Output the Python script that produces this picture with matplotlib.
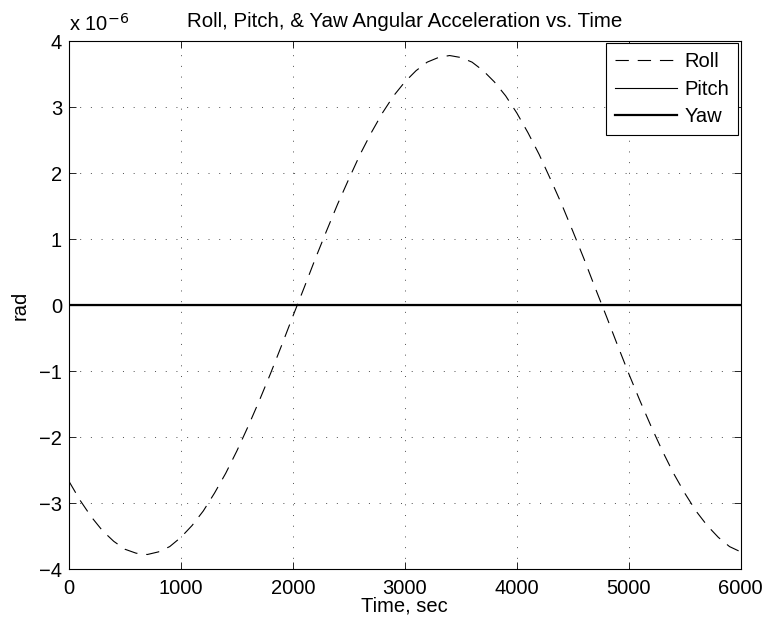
import numpy as np
import matplotlib
matplotlib.use('Agg')
import matplotlib.pyplot as plt
from matplotlib.ticker import FuncFormatter

plt.rcParams['font.family'] = ['Liberation Sans', 'DejaVu Sans']

# values (roll in units of 1e-6 rad), every 100 s
time_s = list(range(0, 6001, 100))
roll_e6 = [-2.67, -2.96, -3.21, -3.42, -3.58, -3.70, -3.76, -3.78, -3.74, -3.66,
           -3.52, -3.34, -3.12, -2.85, -2.55, -2.21, -1.84, -1.45, -1.04, -0.61,
           -0.17, 0.26, 0.70, 1.12, 1.53, 1.91, 2.28, 2.61, 2.91, 3.17,
           3.38, 3.55, 3.68, 3.75, 3.78, 3.75, 3.68, 3.55, 3.38, 3.17,
           2.91, 2.61, 2.28, 1.91, 1.53, 1.12, 0.70, 0.26, -0.17, -0.61,
           -1.04, -1.45, -1.84, -2.21, -2.55, -2.85, -3.12, -3.34, -3.52, -3.66,
           -3.74]
pitch_e6 = [0.0] * len(time_s)
yaw_e6 = [0.0] * len(time_s)

scale = 1e-6
t = np.array(time_s)
fs = 14.5

fig = plt.figure(figsize=(7.66, 6.26), dpi=100)
ax = fig.add_axes([0.090, 0.091, 0.877, 0.8435])

ax.plot(t, np.array(roll_e6) * scale, 'k', ls=(0, (12, 8)), lw=0.8, label='Roll')
ax.plot(t, np.array(pitch_e6) * scale, 'k-', lw=0.8, label='Pitch')
ax.plot(t, np.array(yaw_e6) * scale, 'k-', lw=1.6, label='Yaw')

ax.set_xlim(0, 6000)
ax.set_ylim(-4e-6, 4e-6)
ax.set_xticks(np.arange(0, 6001, 1000))
ax.set_yticks(np.arange(-4, 5, 1) * scale)
ax.yaxis.set_major_formatter(FuncFormatter(lambda v, p: ('%d' % round(v / scale)).replace('-', '\u2212')))
ax.tick_params(direction='in', top=True, right=True, labelsize=fs, length=5, width=0.6)
ax.tick_params(axis='x', pad=7)
ax.tick_params(axis='y', pad=5)
ax.grid(True, ls=(0, (1, 10)), color='0.3', lw=0.7)
for s in ax.spines.values():
    s.set_linewidth(0.8)

ax.text(0.0, 1.012, r'x 10$^{-6}$', transform=ax.transAxes, fontsize=fs, ha='left', va='bottom')
ax.set_title('Roll, Pitch, & Yaw Angular Acceleration vs. Time', fontsize=14.8, pad=10)
ax.set_xlabel('Time, sec', fontsize=fs, labelpad=-1)
ax.set_ylabel('rad', fontsize=fs, labelpad=7)

leg = ax.legend(loc='upper right', fontsize=fs, fancybox=False, framealpha=1,
                edgecolor='k', borderaxespad=0.12, handlelength=3.1,
                labelspacing=0.42, borderpad=0.45, handletextpad=0.35)
leg.get_frame().set_linewidth(0.8)

fig.savefig('out.png', dpi=100)
